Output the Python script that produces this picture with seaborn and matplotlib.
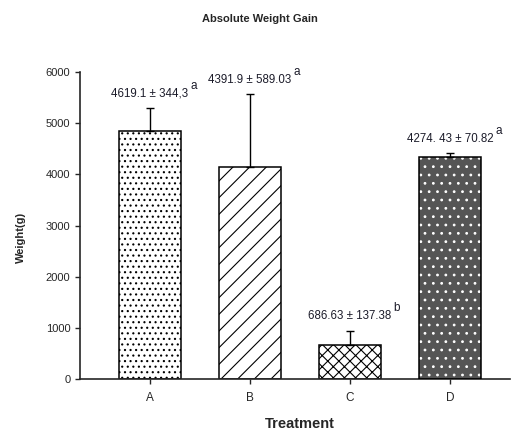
import numpy as np
import matplotlib
matplotlib.use('Agg')
import matplotlib.pyplot as plt
import seaborn as sns
from matplotlib.patches import Rectangle


treatments = ['A', 'B', 'C', 'D']
weight_gain = [4840, 4135, 655, 4340]
error_up = [460, 1435, 290, 80]
labels = ['4619.1 ± 344,3', '4391.9 ± 589.03', '686.63 ± 137.38', '4274. 43 ± 70.82']
letters = ['a', 'a', 'b', 'a']
hatches = ['...', '//', 'xxx', '..']

sns.set_style('ticks')
plt.rcParams['font.family'] = ['Liberation Sans', 'DejaVu Sans']
plt.rcParams['hatch.linewidth'] = 0.8

fig = plt.figure(figsize=(5.11, 4.32), dpi=100)
ax = fig.add_axes([0.1566, 0.1227, 0.8414, 0.7106])

sns.barplot(x=treatments, y=weight_gain, color='white', edgecolor='black',
            linewidth=1.1, width=0.62, ax=ax)

for i, p in enumerate(ax.patches):
	p.set_hatch(hatches[i])
	if treatments[i] == 'D':
		p.set_facecolor('#555555')
		p.set_edgecolor('white')
		p.set_linewidth(0)
		ax.add_patch(Rectangle(p.get_xy(), p.get_width(), p.get_height(),
		                       fill=False, ec='black', lw=1.1, zorder=3))

xpos = np.arange(len(treatments))
ax.errorbar(xpos, weight_gain, yerr=[np.zeros(len(error_up)), error_up],
            fmt='none', ecolor='black', elinewidth=1.0, capsize=3.2,
            capthick=1.0, zorder=2)

# value labels above each bar, with the significance letter as superscript
for i in range(len(treatments)):
	top = weight_gain[i] + error_up[i]
	t = ax.annotate(labels[i], (xpos[i], top), xytext=(0, 6), textcoords='offset points',
	                ha='center', va='bottom', fontsize=8.3, color='#1c1c2a')
	ax.annotate(letters[i], (1, 1), xycoords=t, xytext=(1.5, -3),
	            textcoords='offset points', ha='left', va='bottom',
	            fontsize=8.5, color='#1c1c2a')

ax.set_ylim(0, 6000)
ax.set_xlim(-0.7, 3.6)
ax.set_yticks(range(0, 6001, 1000))
ax.tick_params(axis='both', labelsize=8, length=3.5, width=1, direction='out')
ax.tick_params(axis='x', labelsize=8.5, pad=6)
ax.set_xlabel('Treatment', fontsize=10.5, fontweight='bold')
ax.xaxis.set_label_coords(0.512, -0.124)
ax.set_ylabel('Weight(g)', fontsize=8, fontweight='bold')
ax.yaxis.set_label_coords(-0.126, 0.4625)
sns.despine(ax=ax)
for s in ['left', 'bottom']:
	ax.spines[s].set_linewidth(1.2)

fig.text(0.508, 0.955, 'Absolute Weight Gain', ha='center', va='center',
         fontsize=8, fontweight='bold')

fig.savefig('out.png', dpi=100)
